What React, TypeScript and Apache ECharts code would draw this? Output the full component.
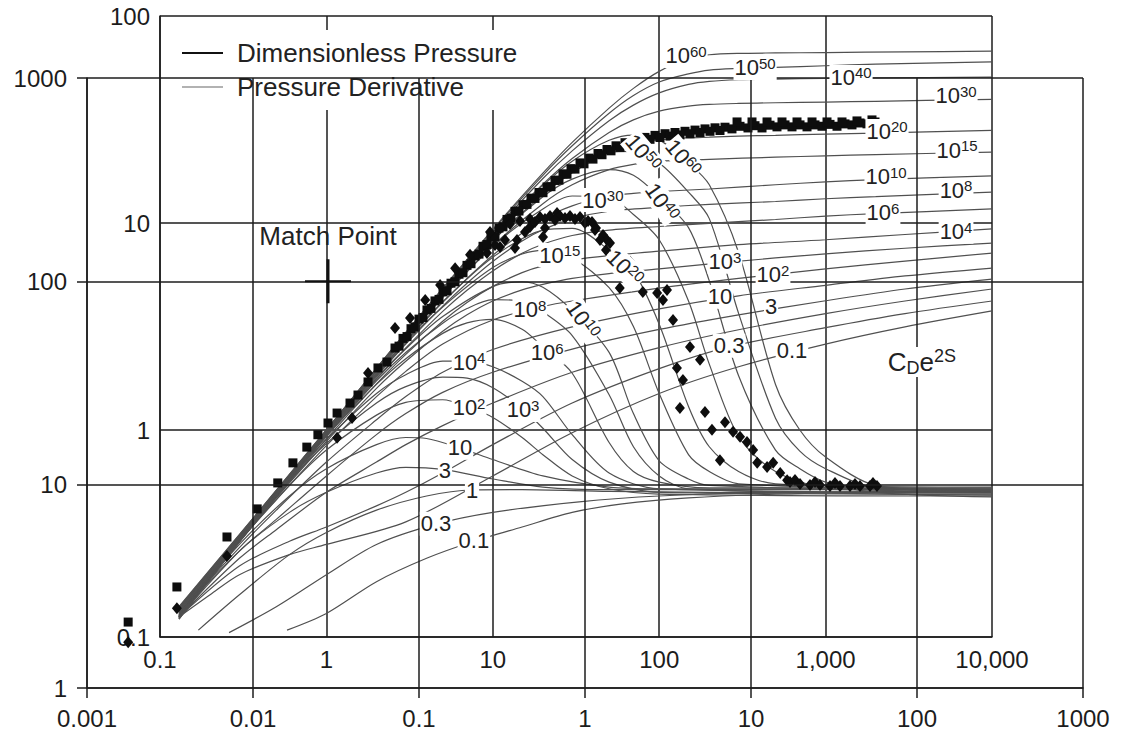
import React, { useEffect, useRef } from 'react';
import * as echarts from 'echarts';

const FONT = '"Liberation Sans", Arial, Helvetica, sans-serif';

// ---- tick labels ----
const outerXLabels = ['0.001', '0.01', '0.1', '1', '10', '100', '1000'];
const outerYLabels = ['1', '10', '100', '1000'];
const innerXLabels = ['0.1', '1', '10', '100', '1,000', '10,000'];
const innerYLabels = ['0.1', '1', '10', '100'];

// ---- type curves (tD/CD, pD) : dimensionless pressure ----
const P_0_1 = [[0.13,0.125],[0.2,0.16],[0.3,0.2],[0.6,0.25],[1,0.28],[3,0.36],[10,0.6],[30,0.97],[100,1.5],[300,2.02],[1000,2.6],[3000,3.15],[10000,3.76]];
const P_0_3 = [[0.13,0.125],[0.3,0.22],[0.6,0.29],[1,0.34],[2,0.43],[3,0.5],[5,0.62],[10,0.85],[30,1.35],[100,1.98],[263,2.52],[1000,3.12],[3000,3.65],[10000,4.2]];
const P_1 = [[0.13,0.125],[0.3,0.24],[0.5,0.33],[1,0.5],[2,0.7],[3,0.85],[5,1.05],[10,1.35],[30,1.9],[100,2.5],[300,3.05],[1000,3.65],[3000,4.2],[10000,4.8]];
const P_3 = [[0.13,0.125],[0.3,0.26],[0.5,0.37],[1,0.6],[2,0.95],[3,1.2],[5,1.52],[10,1.9],[30,2.46],[100,3.06],[300,3.6],[1000,4.21],[3000,4.8],[10000,5.36]];
const P_10 = [[0.13,0.13],[0.3,0.27],[0.5,0.41],[1,0.7],[2,1.12],[3,1.45],[5,1.9],[10,2.45],[30,3.15],[100,3.85],[300,4.45],[1000,5.0],[3000,5.55],[10000,6.06]];
const P_1e2 = [[0.13,0.13],[0.3,0.29],[0.5,0.46],[1,0.84],[2,1.45],[3,1.92],[5,2.6],[10,3.4],[20,3.95],[30,4.2],[100,4.85],[300,5.4],[1000,6.0],[3000,6.55],[10000,7.16]];
const P_1e3 = [[0.13,0.13],[0.3,0.29],[0.5,0.47],[1,0.88],[2,1.59],[3,2.15],[5,3.0],[7,3.6],[10,4.2],[15,4.75],[20,5.05],[30,5.4],[50,5.7],[100,6.0],[250,6.45],[1000,7.1],[3000,7.55],[10000,8.0]];
const P_1e4 = [[0.13,0.13],[0.3,0.29],[0.5,0.474],[1,0.907],[2,1.67],[3,2.32],[5,3.35],[7,4.13],[10,4.94],[15,5.76],[20,6.21],[30,6.63],[50,6.96],[100,7.31],[300,7.86],[1000,8.3],[3000,8.8],[10000,9.36]];
const P_1e6 = [[0.13,0.132],[0.5,0.48],[1,0.935],[2,1.76],[3,2.49],[5,3.74],[7,4.73],[10,5.87],[15,7.14],[20,7.9],[30,8.7],[50,9.23],[100,9.62],[200,9.96],[500,10.4],[1000,10.8],[2000,11.1],[10000,11.7]];
const P_1e8 = [[0.13,0.133],[0.5,0.48],[1,0.95],[2,1.81],[3,2.6],[5,3.97],[7,5.12],[10,6.52],[15,8.19],[20,9.27],[30,10.5],[50,11.4],[100,11.9],[200,12.3],[500,12.7],[1000,13.1],[2000,13.4],[10000,14.1]];
const P_1e10 = [[0.13,0.134],[0.5,0.49],[1,0.96],[2,1.85],[3,2.67],[5,4.14],[10,6.99],[20,10.4],[30,12.1],[50,13.5],[70,13.9],[100,14.2],[200,14.6],[500,15.3],[1000,15.8],[2000,16.2],[10000,16.9]];
const P_1e15 = [[0.13,0.135],[1,0.97],[3,2.77],[5,4.38],[10,7.76],[20,12.4],[30,15.3],[50,18.1],[70,19.2],[100,19.9],[200,20.3],[500,20.8],[1000,21.1],[2000,21.4],[10000,22.0]];
const P_1e20 = [[0.13,0.136],[1,0.98],[3,2.82],[5,4.52],[10,8.22],[20,13.7],[30,17.5],[50,21.9],[70,23.9],[100,25.2],[150,25.8],[200,26.0],[300,26.3],[500,26.5],[1000,26.9],[2000,27.2],[10000,28.0]];
const P_1e30 = [[0.13,0.137],[1,0.99],[3,2.88],[10,8.74],[20,15.4],[30,20.5],[50,27.4],[70,31.5],[100,34.7],[150,36.7],[200,37.4],[300,37.8],[500,38.1],[1000,38.4],[2000,38.7],[10000,39.6]];
const P_1e40 = [[0.13,0.138],[1,0.995],[3,2.93],[10,9.0],[20,16.4],[30,22.3],[50,31.2],[70,37.1],[100,42.5],[150,46.7],[200,48.3],[300,49.2],[500,49.6],[1000,49.9],[2000,50.2],[10000,50.7]];
const P_1e50 = [[0.13,0.139],[1,1.0],[3,2.95],[10,9.2],[20,17.0],[30,23.6],[50,33.9],[70,41.3],[100,48.0],[150,52.5],[200,54.8],[300,55.8],[500,56.5],[1000,57.5],[2000,58.5],[10000,60.0]];
const P_1e60 = [[0.13,0.14],[1,1.0],[3,2.96],[10,9.32],[20,17.4],[30,24.5],[50,35.9],[70,44.7],[100,54.0],[150,62.5],[200,65.0],[300,66.0],[500,66.3],[1000,66.6],[3000,67.1],[10000,67.7]];

// ---- type curves : pressure derivative ----
const D_0_1 = [[0.58,0.108],[1,0.13],[2,0.185],[4,0.24],[7.7,0.29],[15,0.34],[30,0.4],[60,0.44],[150,0.47],[500,0.49],[2000,0.5],[10000,0.5]];
const D_0_3 = [[0.26,0.105],[0.5,0.14],[1,0.2],[2,0.28],[4.5,0.35],[10,0.4],[33,0.45],[100,0.48],[500,0.5],[10000,0.505]];
const D_1 = [[0.17,0.108],[0.3,0.16],[0.6,0.25],[1,0.32],[2,0.41],[4,0.48],[7.5,0.513],[15,0.515],[50,0.505],[200,0.5],[10000,0.495]];
const D_3 = [[0.13,0.128],[0.3,0.26],[0.6,0.4],[1,0.5],[2,0.62],[3,0.66],[5,0.645],[10,0.58],[20,0.53],[50,0.515],[10000,0.515]];
const D_10 = [[0.13,0.128],[0.3,0.28],[0.6,0.48],[1,0.65],[2,0.85],[3,0.92],[4,0.91],[6.3,0.82],[10,0.72],[20,0.6],[50,0.53],[100,0.52],[10000,0.52]];
const D_1e2 = [[0.13,0.127],[0.3,0.29],[0.6,0.54],[1,0.8],[2,1.18],[3,1.36],[5,1.4],[7.3,1.28],[10,1.15],[15,0.92],[20,0.76],[30,0.6],[50,0.52],[100,0.49],[10000,0.48]];
const D_1e3 = [[0.13,0.127],[0.3,0.3],[0.6,0.57],[1,0.86],[2,1.35],[3,1.62],[5,1.8],[7,1.78],[10,1.6],[15,1.27],[20,1.02],[30,0.72],[50,0.56],[100,0.5],[10000,0.49]];
const D_1e4 = [[0.13,0.126],[0.3,0.3],[0.6,0.58],[1,0.9],[2,1.5],[3,1.85],[5,2.15],[7.2,2.15],[10,2.02],[15,1.72],[20,1.45],[30,0.95],[50,0.62],[100,0.52],[10000,0.5]];
const D_1e6 = [[0.13,0.126],[0.5,0.5],[1,0.94],[2,1.66],[3,2.21],[5,2.93],[7,3.29],[10,3.42],[15,3.07],[20,2.52],[30,1.88],[50,0.87],[70,0.63],[100,0.56],[200,0.525],[10000,0.525]];
const D_1e8 = [[0.13,0.125],[0.5,0.5],[1,0.93],[2,1.73],[3,2.37],[5,3.28],[7,3.86],[10,4.26],[15,4.2],[20,3.72],[30,2.86],[50,1.48],[70,0.83],[100,0.6],[150,0.52],[10000,0.485]];
const D_1e10 = [[0.13,0.125],[1,0.94],[2,1.78],[3,2.47],[5,3.53],[10,4.93],[15,5.2],[20,4.89],[30,3.78],[50,2.37],[70,1.2],[100,0.71],[150,0.58],[200,0.54],[10000,0.5]];
const D_1e15 = [[0.13,0.124],[1,0.96],[3,2.63],[5,3.93],[10,6.09],[15,7.08],[20,7.38],[30,6.78],[50,4.87],[70,3.16],[100,1.5],[150,0.76],[200,0.63],[300,0.55],[10000,0.515]];
const D_1e20 = [[0.13,0.124],[1,0.97],[3,2.7],[5,4.16],[10,6.83],[20,9.24],[30,9.43],[50,7.4],[70,5.85],[100,3.24],[150,1.3],[200,0.83],[300,0.63],[500,0.55],[10000,0.53]];
const D_1e30 = [[0.13,0.123],[1,0.99],[3,2.8],[10,7.7],[20,11.7],[30,13.5],[50,13.3],[70,11.0],[100,8.3],[150,4.2],[200,2.08],[300,0.93],[500,0.63],[1000,0.53],[10000,0.51]];
const D_1e40 = [[0.13,0.123],[1,0.99],[3,2.86],[10,8.2],[20,13.4],[30,16.3],[50,18.1],[70,17.0],[100,13.4],[150,9.5],[200,5.25],[300,1.83],[500,0.8],[700,0.65],[1000,0.56],[2000,0.5],[10000,0.475]];
const D_1e50 = [[0.13,0.122],[1,0.99],[3,2.9],[10,8.5],[20,14.4],[30,18.35],[50,22.0],[70,22.2],[100,19.5],[150,14.1],[200,10.5],[300,3.66],[500,1.14],[700,0.79],[1000,0.65],[2000,0.53],[10000,0.52]];
const D_1e60 = [[0.13,0.122],[1,0.99],[3,2.9],[10,8.74],[20,15.2],[30,19.9],[50,25.1],[70,26.6],[100,25.2],[150,19.5],[200,15.3],[300,7.2],[500,1.66],[700,1.0],[1000,0.74],[2000,0.54],[10000,0.5]];

const pressureCurves = [P_0_1, P_0_3, P_1, P_3, P_10, P_1e2, P_1e3, P_1e4, P_1e6, P_1e8, P_1e10, P_1e15, P_1e20, P_1e30, P_1e40, P_1e50, P_1e60];
const derivativeCurves = [D_0_1, D_0_3, D_1, D_3, D_10, D_1e2, D_1e3, D_1e4, D_1e6, D_1e8, D_1e10, D_1e15, D_1e20, D_1e30, D_1e40, D_1e50, D_1e60];

// ---- curve labels (CDe2S) ----
const pLabelText = ['10^60','10^50','10^40','10^30','10^20','10^15','10^10','10^8','10^6','10^4','10^3','10^2','10','3','0.3','0.1'];
const pLabelX = [145,377,1422,6080,2339,6166,2307,6080,2213,6080,248,483,232,470,263,628];
const pLabelY = [64.1,56.1,50.7,41.1,27.8,22.5,16.7,14.4,11.2,9.06,6.49,5.61,4.4,3.93,2.55,2.43];

const dLabelText = ['10^50','10^60','10^30','10^40','10^15','10^20','10^8','10^10','10^4','10^6','10^2','10^3','10','3','1','0.3','0.1'];
const dLabelX = [80,139,45.9,104,25.3,62.2,16.7,34.8,7.2,21.2,7.2,15.2,6.35,5.16,7.5,4.56,7.7];
const dLabelY = [21.8,20.6,12.9,12.6,7.0,6.07,3.8,3.4,2.13,2.36,1.28,1.25,0.82,0.64,0.513,0.352,0.294];
const dLabelRotate = [-50,-50,0,-55,0,-45,0,-55,0,0,0,0,0,0,0,0,0];

const cdLabelPos = [3793, 2.13];

// ---- field data (time, hr ; delta p, psi) ----
const pressureData = [
  [0.00177,2.11],[0.00348,3.14],[0.00697,5.53],[0.0106,7.6],[0.0141,10.2],[0.0174,12.8],[0.0211,15.3],[0.0246,17.6],[0.0283,20.1],[0.0321,22.5],[0.0384,25.2],[0.0429,27.6],[0.0493,32.0],[0.0566,37.5],[0.0641,40.1],
  [0.0717,47.0],[0.0801,52.4],[0.0895,58.5],[0.1,65.2],[0.1117,72.3],[0.1248,80.1],[0.1395,88.7],[0.1559,97.9],[0.1742,108.4],[0.1946,119.8],[0.2174,133.3],[0.243,148.7],[0.2715,165.5],[0.3033,182.7],[0.3389,201.6],[0.3787,221.0],[0.4231,238.2],[0.4728,256.4],[0.5283,273.5],[0.5903,291.2],[0.6596,313.5],[0.737,337.6],[0.8235,358.1],[0.9331,382.3],[1.057,403.6],[1.198,425.2],[1.357,444.9],[1.538,464.0],[1.742,480.6],[2.001,497.2],[2.298,510.3],[2.641,522.1],[3.034,532.2],[3.485,539.5],[4.004,546.9],[4.6,554.4],[5.283,562.0],[6.069,568.9],[6.972,572.8],[8.587,578.7],[10.57,582.7],[13.02,586.0],[16.03,588.0],[19.74,588.0],[24.3,588.0],[29.92,591.4],[36.84,594.7],[45.35,600.9],[55.85,607.7],
  [0.0758,48.0],[0.0847,53.5],[0.0946,59.7],[0.1057,66.4],[0.1181,73.6],[0.132,81.5],[0.1475,89.9],[0.1648,99.5],[0.1841,110.2],[0.2057,122.1],[0.2298,136.1],[0.2568,151.7],[0.2869,166.0],[0.3206,185.4],[0.3582,204.6],[0.4002,221.7],[0.4472,239.0],[0.4996,255.7],[0.5585,272.8],[0.624,292.1],[0.6972,314.6],[0.779,336.1],[0.8704,356.4],[0.9863,378.4],[1.117,399.1],[1.266,419.4],[1.434,438.4],[1.625,455.6],[1.867,474.0],[2.145,487.1],[2.464,499.4],[2.83,509.7],[3.251,517.8],[3.735,524.9],[4.291,532.1],[4.93,539.4],[5.662,546.8],[6.505,551.9],
  [7.68,562],[9.59,568],[11.65,568],[14.34,575],[17.66,575],[21.75,575],[26.77,579],[32.97,579],[40.59,588],[49.98,595],
  [8.24,608],[10.14,608],[12.49,608],[15.37,608],[18.93,608],[23.31,608],[28.7,608],[35.33,608],[43.5,615],[53.56,622]
];
const derivativeData = [
  [0.00177,1.68],[0.00348,2.47],[0.00697,4.46],[0.0321,17.0],[0.0395,21.3],[0.0493,35.4],[0.0717,59.0],[0.0883,66.1],[0.109,81.0],[0.134,96.0],[0.165,116],[0.203,135],
  [0.2568,137.9],[0.2678,175.0],[0.3076,183.1],[0.3076,147.6],[0.3533,191.6],[0.3894,159.8],[0.4058,198.2],[0.4663,202.7],[0.4663,185.2],[0.5357,207.4],[0.5585,165.3],[0.6154,209.8],[0.6783,216.9],[0.7069,209.8],[0.8121,209.8],[0.9331,207.4],[1.043,198.2],[1.102,196.0],[1.165,183.1],[1.284,169.1],[1.357,159.8],[1.415,154.5],[1.58,139.5],[1.742,127.4],[1.87,125],
  [0.4996,196.0],[0.5741,202.7],[0.6596,200.5],[0.7578,205.1],[0.8704,202.7],[1.0,193.8],[1.149,178.9],[0.5741,183.1],[0.4351,175.0],[0.3297,159.8],[0.2869,151.1],[0.3787,146.0],[1.231,159.8],[1.338,142.7],
  [1.62,92.8],[2.23,88.7],[2.72,87.7],[3.12,90.7],[2.95,81.0],[3.39,64.6],[4.29,47.6],[4.93,41.1],[3.58,37.5],[3.89,32.7],[3.73,23.8],[5.28,22.8],[5.82,18.6],[6.97,20.3],[7.8,18.2],[8.59,17.2],[9.46,16.2],[6.5,13.2],[10.3,14.8],[10.9,12.8],[12.5,12.2],[13.6,12.8],[15.0,11.4],[16.5,10.5],
  [17.18,10.31],[18.41,10.55],[19.74,10.08],[22.67,9.97],[24.3,10.31],[26.04,9.97],[29.92,9.85],[32.06,10.2],[34.37,9.85],[39.48,9.85],[42.31,10.08],[45.35,9.85],[52.1,9.85],[54.3,10.2],[57.4,9.85]
];
const matchPoint = [0.0283, 100];

function richText(t: string): string {
  if (t === 'CDe2S') return '{B|C}{SUB|D}{B|e}{SUP|2S}';
  const k = t.indexOf('^');
  if (k < 0) return `{b|${t}}`;
  return `{b|${t.slice(0, k)}}{sup|${t.slice(k + 1)}}`;
}

const TXT = '#222';
const rich = {
  b: { fontSize: 22, lineHeight: 24, color: TXT, fontFamily: FONT },
  sup: { fontSize: 15, lineHeight: 15, verticalAlign: 'top', color: TXT, fontFamily: FONT },
  B: { fontSize: 26, lineHeight: 30, color: TXT, fontFamily: FONT },
  SUP: { fontSize: 18, lineHeight: 18, verticalAlign: 'top', color: TXT, fontFamily: FONT },
  SUB: { fontSize: 18, lineHeight: 18, verticalAlign: 'bottom', color: TXT, fontFamily: FONT },
};

export default function App() {
  const ref = useRef<HTMLDivElement>(null);
  useEffect(() => {
    const chart = echarts.init(ref.current!, null, { renderer: 'svg' });
    const gridLine = { color: '#1c1c1c', width: 1.5 };
    const axisFont = { fontSize: 24, color: '#1c1c1c', fontFamily: FONT };

    const curveSeries: any[] = [];
    pressureCurves.forEach((d) => curveSeries.push({
      type: 'line', name: 'Dimensionless Pressure', xAxisIndex: 1, yAxisIndex: 1, data: d,
      showSymbol: false, symbol: 'none', smooth: 0.3, silent: true, z: 2,
      lineStyle: { color: '#505050', width: 1.2 },
    }));
    derivativeCurves.forEach((d) => curveSeries.push({
      type: 'line', name: 'Pressure Derivative', xAxisIndex: 1, yAxisIndex: 1, data: d,
      showSymbol: false, symbol: 'none', smooth: 0.3, silent: true, z: 2,
      lineStyle: { color: '#505050', width: 1.2 },
    }));

    const labelItems: any[] = [];
    pLabelText.forEach((t, i) => labelItems.push({ name: t, value: [pLabelX[i], pLabelY[i]] }));
    dLabelText.forEach((t, i) => labelItems.push({ name: t, value: [dLabelX[i], dLabelY[i]], label: { rotate: dLabelRotate[i] } }));
    labelItems.push({ name: 'CDe2S', value: cdLabelPos });

    const option: any = {
      animation: false,
      backgroundColor: '#fff',
      legend: {
        show: true, orient: 'vertical', left: 170, top: 30, padding: [10, 14, 10, 12],
        itemGap: 8, itemWidth: 41, itemHeight: 14, backgroundColor: '#fff', selectedMode: false, z: 4,
        textStyle: { fontSize: 26, color: TXT, fontFamily: FONT, padding: [0, 0, 0, 9], lineHeight: 26 },
        data: [
          { name: 'Dimensionless Pressure', icon: 'path://M0,0H41V2H0Z', itemStyle: { color: '#111' } },
          { name: 'Pressure Derivative', icon: 'path://M0,0H82V2H0Z', itemStyle: { color: '#666' } },
        ],
      },
      grid: [
        { left: 87, top: 78, width: 996, height: 610 },
        { left: 160, top: 16, width: 832, height: 621 },
      ],
      xAxis: [
        {
          type: 'log', logBase: 10, min: 0.001, max: 1000, gridIndex: 0, z: 5,
          axisLine: { show: true, lineStyle: gridLine },
          axisTick: { show: true, inside: false, length: 10, lineStyle: gridLine },
          splitLine: { show: true, lineStyle: gridLine },
          minorTick: { show: false }, minorSplitLine: { show: false },
          axisLabel: { ...axisFont, margin: 18, formatter: (v: number) => outerXLabels[Math.round(Math.log10(v)) + 3] },
        },
        {
          type: 'log', logBase: 10, min: 0.1, max: 10000, gridIndex: 1, z: 0,
          axisLine: { show: true, lineStyle: gridLine },
          axisTick: { show: false },
          splitLine: { show: true, lineStyle: gridLine },
          axisLabel: { ...axisFont, margin: 10, formatter: (v: number) => innerXLabels[Math.round(Math.log10(v)) + 1] },
        },
      ],
      yAxis: [
        {
          type: 'log', logBase: 10, min: 1, max: 1000, gridIndex: 0, z: 5,
          axisLine: { show: true, lineStyle: gridLine },
          axisTick: { show: true, inside: false, length: 10, lineStyle: gridLine },
          splitLine: { show: true, lineStyle: gridLine },
          axisLabel: { ...axisFont, margin: 20, formatter: (v: number) => outerYLabels[Math.round(Math.log10(v))] },
        },
        {
          type: 'log', logBase: 10, min: 0.1, max: 100, gridIndex: 1, z: 0,
          axisLine: { show: true, lineStyle: gridLine },
          axisTick: { show: false },
          splitLine: { show: true, lineStyle: gridLine },
          axisLabel: { ...axisFont, margin: 10, formatter: (v: number) => innerYLabels[Math.round(Math.log10(v)) + 1] },
        },
      ],
      series: [
        ...curveSeries,
        {
          type: 'scatter', name: 'pressure data', xAxisIndex: 0, yAxisIndex: 0, data: pressureData,
          symbol: 'rect', symbolSize: 9, itemStyle: { color: '#0d0d0d', opacity: 1 }, silent: true, z: 3,
        },
        {
          type: 'scatter', name: 'derivative data', xAxisIndex: 0, yAxisIndex: 0, data: derivativeData,
          symbol: 'diamond', symbolSize: [10, 12], itemStyle: { color: '#0d0d0d', opacity: 1 }, silent: true, z: 3,
        },
        {
          type: 'scatter', name: 'match point', xAxisIndex: 0, yAxisIndex: 0, data: [matchPoint],
          symbol: 'path://M0,21H46V23H0Z M21.5,0H24.5V44H21.5Z', symbolSize: [46, 44],
          itemStyle: { color: '#111', opacity: 1 }, silent: true, z: 6,
          label: { show: true, position: 'top', distance: 10, formatter: 'Match Point', fontSize: 26, color: TXT, fontFamily: FONT },
        },
        {
          type: 'scatter', name: 'curve labels', xAxisIndex: 1, yAxisIndex: 1, data: labelItems,
          symbol: 'circle', symbolSize: 0.1, itemStyle: { color: 'transparent', opacity: 1 }, silent: true, z: 10,
          label: {
            show: true, position: 'inside', formatter: (p: any) => richText(p.name),
            backgroundColor: '#fff', padding: [0, 1], rich,
          },
        },
      ],
    };
    chart.setOption(option);
    return () => chart.dispose();
  }, []);
  return <div ref={ref} style={{ position: 'fixed', left: 0, top: 0, width: 1125, height: 734, background: '#fff' }} />;
}
